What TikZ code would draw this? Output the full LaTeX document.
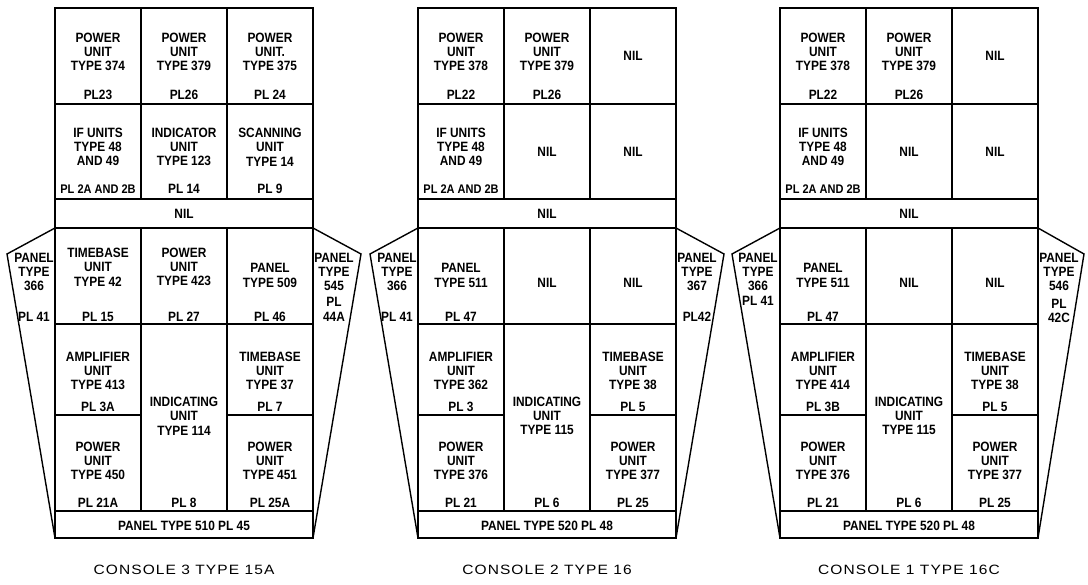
\documentclass[tikz,border=0pt]{standalone}
\usepackage{fontspec}
\newfontfamily\platefont[FakeStretch=0.88]{Liberation Sans}
\newfontfamily\capfont[FakeStretch=1.15,LetterSpace=8]{Liberation Sans}
\usetikzlibrary{positioning}

\begin{document}
\begin{tikzpicture}[
    x=1pt, y=-1pt,
    every node/.style = {align=center, inner sep=0pt},
    frame/.style   = {draw, line width=1.4pt, line join=miter},
    unit/.style    = {font=\platefont\bfseries\fontsize{13.5}{14.3}\selectfont},
    plate/.style   = {unit},
    tight/.style   = {font=\platefont\bfseries\fontsize{12.5}{14.3}\selectfont},
    caption/.style = {font=\capfont\fontsize{13.5}{15}\selectfont},
]
\useasboundingbox (0,0) rectangle (1088,585);

% ---------------- Console 3 ----------------
\begin{scope}[xshift=55pt]
\draw[frame] (0,8) rectangle (258,538);
\draw[frame] (0,104) -- (258,104) (0,199) -- (258,199) (0,228) -- (258,228)
             (0,324) -- (258,324) (0,511) -- (258,511)
             (0,415) -- (86,415) (172,415) -- (258,415);
\draw[frame] (86,8) -- (86,199) (172,8) -- (172,199) (86,228) -- (86,511) (172,228) -- (172,511);
\draw[frame] (0,228) -- (-48,254) -- (0,538) (258,228) -- (306,254) -- (258,538);

\node[unit]  (a11)   at (43,52)   {POWER\\UNIT\\TYPE 374};
\node[plate] (a11pl) at (43,95)   {PL23};
\node[unit]  (a12)   at (129,52)  {POWER\\UNIT\\TYPE 379};
\node[plate] (a12pl) at (129,95)  {PL26};
\node[unit]  (a13)   at (215,52)  {POWER\\UNIT.\\TYPE 375};
\node[plate] (a13pl) at (215,95)  {PL 24};

\node[unit]  (a21)   at (43,147)  {IF UNITS\\TYPE 48\\AND 49};
\node[tight] (a21pl) at (43,189)  {PL 2A AND 2B};
\node[unit]  (a22)   at (129,147) {INDICATOR\\UNIT\\TYPE 123};
\node[plate] (a22pl) at (129,189) {PL 14};
\node[unit]  (a23)   at (215,147) {SCANNING\\UNIT\\TYPE 14};
\node[plate] (a23pl) at (215,189) {PL 9};

\node[unit]  (anil)  at (129,214) {NIL};

\node[unit]  (aleft)   at (-21,272) {PANEL\\TYPE\\366};
\node[plate] (aleftpl) at (-21,317) {PL 41};
\node[unit]  (a31)   at (43,267)  {TIMEBASE\\UNIT\\TYPE 42};
\node[plate] (a31pl) at (43,317)  {PL 15};
\node[unit]  (a32)   at (129,267) {POWER\\UNIT\\TYPE 423};
\node[plate] (a32pl) at (129,317) {PL 27};
\node[unit]  (a33)   at (215,275.5) {PANEL\\TYPE 509};
\node[plate] (a33pl) at (215,317) {PL 46};
\node[unit]  (aright)   at (279,272) {PANEL\\TYPE\\545};
\node[plate] (arightpl) at (279,309.5) {PL\\44A};

\node[unit]  (a41)   at (43,371)  {AMPLIFIER\\UNIT\\TYPE 413};
\node[plate] (a41pl) at (43,407)  {PL 3A};
\node[unit]  (a43)   at (215,371) {TIMEBASE\\UNIT\\TYPE 37};
\node[plate] (a43pl) at (215,407) {PL 7};
\node[unit]  (aind)   at (129,416) {INDICATING\\UNIT\\TYPE 114};
\node[plate] (aindpl) at (129,503) {PL 8};
\node[unit]  (a51)   at (43,461)  {POWER\\UNIT\\TYPE 450};
\node[plate] (a51pl) at (43,503)  {PL 21A};
\node[unit]  (a53)   at (215,461) {POWER\\UNIT\\TYPE 451};
\node[plate] (a53pl) at (215,503) {PL 25A};

\node[unit]    (abase) at (129,526) {PANEL TYPE 510 PL 45};
\node[caption] (acap)  at (129,570) {CONSOLE 3 TYPE 15A};
\end{scope}

% ---------------- Console 2 ----------------
\begin{scope}[xshift=418pt]
\draw[frame] (0,8) rectangle (258,538);
\draw[frame] (0,104) -- (258,104) (0,199) -- (258,199) (0,228) -- (258,228)
             (0,324) -- (258,324) (0,511) -- (258,511)
             (0,415) -- (86,415) (172,415) -- (258,415);
\draw[frame] (86,8) -- (86,199) (172,8) -- (172,199) (86,228) -- (86,511) (172,228) -- (172,511);
\draw[frame] (0,228) -- (-48,254) -- (0,538) (258,228) -- (306,254) -- (258,538);

\node[unit]  (b11)   at (43,52)   {POWER\\UNIT\\TYPE 378};
\node[plate] (b11pl) at (43,95)   {PL22};
\node[unit]  (b12)   at (129,52)  {POWER\\UNIT\\TYPE 379};
\node[plate] (b12pl) at (129,95)  {PL26};
\node[unit]  (b13)   at (215,56)  {NIL};

\node[unit]  (b21)   at (43,147)  {IF UNITS\\TYPE 48\\AND 49};
\node[tight] (b21pl) at (43,189)  {PL 2A AND 2B};
\node[unit]  (b22)   at (129,152) {NIL};
\node[unit]  (b23)   at (215,152) {NIL};

\node[unit]  (bnil)  at (129,214) {NIL};

\node[unit]  (bleft)   at (-21,272) {PANEL\\TYPE\\366};
\node[plate] (bleftpl) at (-21,317) {PL 41};
\node[unit]  (b31)   at (43,275.5) {PANEL\\TYPE 511};
\node[plate] (b31pl) at (43,317)  {PL 47};
\node[unit]  (b32)   at (129,283) {NIL};
\node[unit]  (b33)   at (215,283) {NIL};
\node[unit]  (bright)   at (279,272) {PANEL\\TYPE\\367};
\node[plate] (brightpl) at (279,317) {PL42};

\node[unit]  (b41)   at (43,371)  {AMPLIFIER\\UNIT\\TYPE 362};
\node[plate] (b41pl) at (43,407)  {PL 3};
\node[unit]  (b43)   at (215,371) {TIMEBASE\\UNIT\\TYPE 38};
\node[plate] (b43pl) at (215,407) {PL 5};
\node[unit]  (bind)   at (129,416) {INDICATING\\UNIT\\TYPE 115};
\node[plate] (bindpl) at (129,503) {PL 6};
\node[unit]  (b51)   at (43,461)  {POWER\\UNIT\\TYPE 376};
\node[plate] (b51pl) at (43,503)  {PL 21};
\node[unit]  (b53)   at (215,461) {POWER\\UNIT\\TYPE 377};
\node[plate] (b53pl) at (215,503) {PL 25};

\node[unit]    (bbase) at (129,526) {PANEL TYPE 520 PL 48};
\node[caption] (bcap)  at (129,570) {CONSOLE 2 TYPE 16};
\end{scope}

% ---------------- Console 1 ----------------
\begin{scope}[xshift=780pt]
\draw[frame] (0,8) rectangle (258,538);
\draw[frame] (0,104) -- (258,104) (0,199) -- (258,199) (0,228) -- (258,228)
             (0,324) -- (258,324) (0,511) -- (258,511)
             (0,415) -- (86,415) (172,415) -- (258,415);
\draw[frame] (86,8) -- (86,199) (172,8) -- (172,199) (86,228) -- (86,511) (172,228) -- (172,511);
\draw[frame] (0,228) -- (-48,254) -- (0,538) (258,228) -- (304,254) -- (258,538);

\node[unit]  (c11)   at (43,52)   {POWER\\UNIT\\TYPE 378};
\node[plate] (c11pl) at (43,95)   {PL22};
\node[unit]  (c12)   at (129,52)  {POWER\\UNIT\\TYPE 379};
\node[plate] (c12pl) at (129,95)  {PL26};
\node[unit]  (c13)   at (215,56)  {NIL};

\node[unit]  (c21)   at (43,147)  {IF UNITS\\TYPE 48\\AND 49};
\node[tight] (c21pl) at (43,189)  {PL 2A AND 2B};
\node[unit]  (c22)   at (129,152) {NIL};
\node[unit]  (c23)   at (215,152) {NIL};

\node[unit]  (cnil)  at (129,214) {NIL};

\node[unit]  (cleft)  at (-22,279) {PANEL\\TYPE\\366\\PL 41};
\node[unit]  (c31)   at (43,275.5) {PANEL\\TYPE 511};
\node[plate] (c31pl) at (43,317)  {PL 47};
\node[unit]  (c32)   at (129,283) {NIL};
\node[unit]  (c33)   at (215,283) {NIL};
\node[unit]  (cright)   at (279,272) {PANEL\\TYPE\\546};
\node[plate] (crightpl) at (279,311) {PL\\42C};

\node[unit]  (c41)   at (43,371)  {AMPLIFIER\\UNIT\\TYPE 414};
\node[plate] (c41pl) at (43,407)  {PL 3B};
\node[unit]  (c43)   at (215,371) {TIMEBASE\\UNIT\\TYPE 38};
\node[plate] (c43pl) at (215,407) {PL 5};
\node[unit]  (cind)   at (129,416) {INDICATING\\UNIT\\TYPE 115};
\node[plate] (cindpl) at (129,503) {PL 6};
\node[unit]  (c51)   at (43,461)  {POWER\\UNIT\\TYPE 376};
\node[plate] (c51pl) at (43,503)  {PL 21};
\node[unit]  (c53)   at (215,461) {POWER\\UNIT\\TYPE 377};
\node[plate] (c53pl) at (215,503) {PL 25};

\node[unit]    (cbase) at (129,526) {PANEL TYPE 520 PL 48};
\node[caption] (ccap)  at (129,570) {CONSOLE 1 TYPE 16C};
\end{scope}

\end{tikzpicture}
\end{document}
